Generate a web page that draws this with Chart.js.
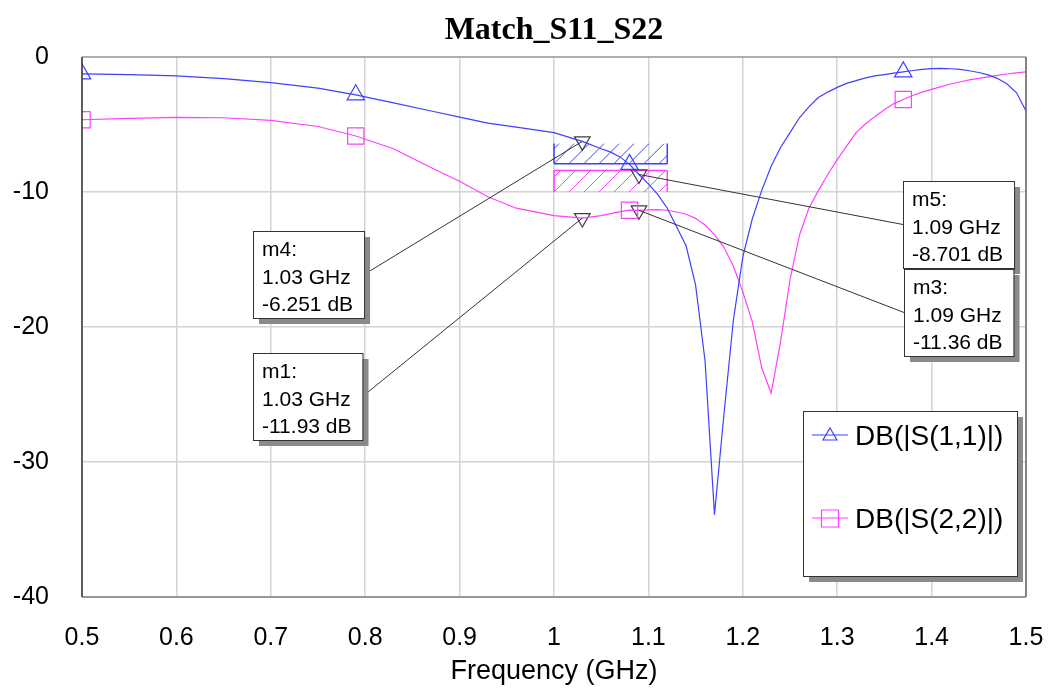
<!DOCTYPE html>
<html>
<head>
<meta charset="utf-8">
<title>Match_S11_S22</title>
<script src="https://cdn.jsdelivr.net/npm/chart.js@4.4.1/dist/chart.umd.min.js"></script>
<style>
    html, body { margin: 0; padding: 0; background: #fff; }
    #wrap { width: 1048px; height: 688px; }
</style>
</head>
<body>
<div id="wrap"><canvas id="chart" width="1048" height="688"></canvas></div>
<script>
(function () {

    // Sweep frequencies (GHz), finer through the resonances.
    var freqGHz = [0.50, 0.55, 0.60, 0.65, 0.70, 0.75, 0.79, 0.83, 0.87, 0.90, 0.93, 0.96, 1.00, 1.03,
        1.05, 1.06, 1.07, 1.08, 1.09, 1.10, 1.11, 1.12, 1.13, 1.14, 1.15, 1.16, 1.17, 1.18, 1.19, 1.20,
        1.21, 1.22, 1.23, 1.24, 1.25, 1.26, 1.27, 1.28, 1.29, 1.30, 1.31, 1.32, 1.33, 1.34, 1.35, 1.36,
        1.37, 1.38, 1.39, 1.40, 1.41, 1.42, 1.43, 1.44, 1.45, 1.46, 1.47, 1.48, 1.49, 1.50];

    // DB(|S(1,1)|)
    var s11Db = [-1.25, -1.3, -1.4, -1.6, -1.9, -2.3, -2.8, -3.4, -4.0, -4.45, -4.9, -5.2, -5.6, -6.251,
        -6.8, -7.05, -7.4, -7.95, -8.701, -9.4, -10.2, -11.2, -12.6, -14.0, -16.9, -22.5, -33.9, -26.5, -19.5, -14.8,
        -12.0, -9.9, -8.1, -6.7, -5.6, -4.5, -3.7, -3.0, -2.6, -2.25, -1.95, -1.75, -1.55, -1.4, -1.3, -1.2,
        -1.1, -1.0, -0.92, -0.86, -0.85, -0.87, -0.92, -1.02, -1.15, -1.32, -1.6, -2.0, -2.65, -4.0];

    // DB(|S(2,2)|)
    var s22Db = [-4.65, -4.55, -4.47, -4.5, -4.7, -5.15, -5.85, -6.8, -8.2, -9.2, -10.35, -11.2, -11.75, -11.93,
        -11.75, -11.6, -11.45, -11.35, -11.36, -11.33, -11.3, -11.35, -11.48, -11.65, -11.95, -12.45, -13.15, -14.1, -15.5, -17.4,
        -19.6, -23.0, -24.9, -21.1, -16.5, -13.2, -11.2, -9.9, -8.7, -7.6, -6.6, -5.6, -4.95, -4.4, -3.9, -3.45,
        -3.15, -2.85, -2.6, -2.4, -2.2, -2.0, -1.85, -1.7, -1.58, -1.47, -1.36, -1.26, -1.18, -1.1];

    // Frequencies where each trace carries its symbol.
    var symbolFreq = [0.5, 0.79, 1.08, 1.37];

    // Trace markers.
    var markerNames = ['m4', 'm1', 'm5', 'm3'];
    var markerFreq = [1.03, 1.03, 1.09, 1.09];
    var markerDb = [-6.251, -11.93, -8.701, -11.36];

    // Optimisation goals: band, then goal line and hatch limit (dB).
    var goalFreq = [1.0, 1.12];
    var s11Goal = [-7.9, -6.4];
    var s22Goal = [-8.4, -10];

    var freqTicks = [0.5, 0.6, 0.7, 0.8, 0.9, 1.0, 1.1, 1.2, 1.3, 1.4, 1.5];
    var dbTicks = [0, -10, -20, -30, -40];

    var BLUE = '#4040ff';
    var PINK = '#ff40ff';
    var INK = '#404040';
    var SANS = '"Liberation Sans", Arial, sans-serif';

    // Where each marker readout sits, in axis units (left, top).
    var markerBoxAt = [[0.681, -12.9], [0.681, -21.9], [1.37, -9.15], [1.371, -15.7]];

    function points(ys) {
        return freqGHz.map(function (f, i) { return { x: f, y: ys[i] }; });
    }

    function isSymbol(f) {
        return symbolFreq.some(function (s) { return Math.abs(s - f) < 1e-6; });
    }

    function shadowBox(ctx, left, top, w, h) {
        ctx.fillStyle = '#8a8a8a';
        ctx.fillRect(left + 6, top + 6, w, h);
        ctx.fillStyle = '#ffffff';
        ctx.fillRect(left, top, w, h);
        ctx.strokeStyle = '#333333';
        ctx.lineWidth = 1;
        ctx.strokeRect(left + 0.5, top + 0.5, w, h);
    }

    /**
     * Hatched goal box with its side walls and goal line.
     */
    function drawGoal(chart, limits, color) {
        var x = chart.scales.x, y = chart.scales.y, ctx = chart.ctx;
        var left = x.getPixelForValue(goalFreq[0]);
        var right = x.getPixelForValue(goalFreq[1]);
        var top = y.getPixelForValue(Math.max(limits[0], limits[1]));
        var bottom = y.getPixelForValue(Math.min(limits[0], limits[1]));
        var h = bottom - top, sx;

        ctx.save();
        ctx.beginPath();
        ctx.rect(left, top, right - left, h);
        ctx.clip();
        ctx.strokeStyle = color;
        ctx.lineWidth = 1;
        ctx.beginPath();
        for (sx = left - Math.ceil(h / 15) * 15; sx < right; sx += 15) {
            ctx.moveTo(sx, bottom);
            ctx.lineTo(sx + h, top);
        }
        ctx.stroke();
        ctx.restore();

        ctx.save();
        ctx.strokeStyle = color;
        ctx.lineWidth = 1.5;
        ctx.beginPath();
        ctx.moveTo(left, top);
        ctx.lineTo(left, bottom);
        ctx.moveTo(right, top);
        ctx.lineTo(right, bottom);
        ctx.moveTo(left, y.getPixelForValue(limits[0]));
        ctx.lineTo(right, y.getPixelForValue(limits[0]));
        ctx.stroke();
        ctx.restore();
    }

    var goalsPlugin = {
        id: 'goals',
        beforeDatasetsDraw: function (chart) {
            drawGoal(chart, s11Goal, BLUE);
            drawGoal(chart, s22Goal, PINK);
        }
    };

    // Plot frame: each side has its own shade.
    var framePlugin = {
        id: 'frame',
        afterDatasetsDraw: function (chart) {
            var a = chart.chartArea, ctx = chart.ctx;
            ctx.save();
            ctx.lineWidth = 1.5;
            ctx.strokeStyle = '#a0a0a0';
            ctx.beginPath(); ctx.moveTo(a.left, a.top); ctx.lineTo(a.right, a.top); ctx.stroke();
            ctx.strokeStyle = '#666666';
            ctx.beginPath(); ctx.moveTo(a.right, a.top); ctx.lineTo(a.right, a.bottom); ctx.stroke();
            ctx.strokeStyle = '#808080';
            ctx.beginPath(); ctx.moveTo(a.left, a.bottom); ctx.lineTo(a.right, a.bottom); ctx.stroke();
            ctx.strokeStyle = '#333333';
            ctx.beginPath(); ctx.moveTo(a.left, a.top); ctx.lineTo(a.left, a.bottom); ctx.stroke();
            ctx.restore();
        }
    };

    var markerBoxPlugin = {
        id: 'markerBoxes',
        afterDraw: function (chart) {
            var x = chart.scales.x, y = chart.scales.y, ctx = chart.ctx;
            ctx.save();
            ctx.font = '21px ' + SANS;
            markerNames.forEach(function (name, i) {
                var lines = [name + ':', markerFreq[i].toFixed(2) + ' GHz', markerDb[i].toPrecision(4) + ' dB'];
                var w = Math.max.apply(null, lines.map(function (t) { return ctx.measureText(t).width; })) + 20;
                var h = 87;
                var left = Math.round(x.getPixelForValue(markerBoxAt[i][0]));
                var top = Math.round(y.getPixelForValue(markerBoxAt[i][1]));
                var px = x.getPixelForValue(markerFreq[i]);
                var py = y.getPixelForValue(markerDb[i]);
                var ex = left > px ? left : left + w;

                ctx.strokeStyle = '#333333';
                ctx.lineWidth = 1;
                ctx.beginPath();
                ctx.moveTo(ex, top + h / 2);
                ctx.lineTo(px, py);
                ctx.stroke();

                shadowBox(ctx, left, top, w, h);
                ctx.fillStyle = '#000000';
                ctx.textBaseline = 'alphabetic';
                ctx.textAlign = 'left';
                lines.forEach(function (t, k) {
                    ctx.fillText(t, left + 9, top + 25 + k * 27.5);
                });
            });
            ctx.restore();
        }
    };

    var legendPlugin = {
        id: 'boxLegend',
        afterDraw: function (chart) {
            var a = chart.chartArea, ctx = chart.ctx;
            var w = 214, h = 165;
            var left = a.right - 9 - w, top = a.bottom - 21 - h;
            var rows = [
                { label: 'DB(|S(1,1)|)', color: BLUE, shape: 'triangle', dy: 24 },
                { label: 'DB(|S(2,2)|)', color: PINK, shape: 'square', dy: 107 }
            ];
            ctx.save();
            shadowBox(ctx, left, top, w, h);
            rows.forEach(function (r) {
                var cy = top + r.dy, cx = left + 27;
                ctx.strokeStyle = r.color;
                ctx.lineWidth = 1.2;
                ctx.beginPath();
                ctx.moveTo(left + 9, cy);
                ctx.lineTo(left + 45, cy);
                ctx.stroke();
                ctx.beginPath();
                if (r.shape === 'triangle') {
                    ctx.moveTo(cx, cy - 7);
                    ctx.lineTo(cx + 7, cy + 5);
                    ctx.lineTo(cx - 7, cy + 5);
                    ctx.closePath();
                } else {
                    ctx.rect(cx - 8.5, cy - 8, 17, 17);
                }
                ctx.stroke();
                ctx.fillStyle = '#000000';
                ctx.font = '28px ' + SANS;
                ctx.textBaseline = 'middle';
                ctx.fillText(r.label, left + 52, cy + 2);
            });
            ctx.restore();
        }
    };

    var titlePlugin = {
        id: 'plotTitle',
        afterDraw: function (chart) {
            var a = chart.chartArea, ctx = chart.ctx;
            ctx.save();
            ctx.font = 'bold 32px "Liberation Serif", "Times New Roman", serif';
            ctx.fillStyle = '#000000';
            ctx.textAlign = 'center';
            ctx.textBaseline = 'middle';
            ctx.fillText('Match_S11_S22', (a.left + a.right) / 2, 31);
            ctx.restore();
        }
    };

    function traceDataset(label, ys, color, style, radius) {
        return {
            label: label,
            data: points(ys),
            borderColor: color,
            borderWidth: 1.2,
            tension: 0,
            clip: 0,
            pointStyle: style,
            pointBorderColor: color,
            pointBackgroundColor: 'rgba(0,0,0,0)',
            pointBorderWidth: 1.2,
            pointRadius: function (c) { return isSymbol(c.raw.x) ? radius : 0; }
        };
    }

    new Chart(document.getElementById('chart'), {
        type: 'line',
        data: {
            datasets: [
                traceDataset('DB(|S(1,1)|)', s11Db, BLUE, 'triangle', 10),
                traceDataset('DB(|S(2,2)|)', s22Db, PINK, 'rect', 11.5),
                {
                    label: 'markers',
                    type: 'scatter',
                    data: markerFreq.map(function (f, i) { return { x: f, y: markerDb[i] }; }),
                    showLine: false,
                    clip: 0,
                    pointStyle: 'triangle',
                    rotation: 180,
                    pointRadius: 9,
                    pointBorderWidth: 1.2,
                    pointBorderColor: INK,
                    pointBackgroundColor: 'rgba(0,0,0,0)'
                }
            ]
        },
        options: {
            responsive: false,
            devicePixelRatio: 1,
            animation: false,
            events: [],
            layout: { padding: { top: 57, right: 0, left: 0, bottom: 0 } },
            plugins: {
                legend: { display: false },
                tooltip: { enabled: false },
                title: { display: false }
            },
            scales: {
                x: {
                    type: 'linear',
                    min: 0.5,
                    max: 1.5,
                    afterBuildTicks: function (scale) {
                        scale.ticks = freqTicks.map(function (v) { return { value: v }; });
                    },
                    afterFit: function (scale) {
                        scale.height = 91;
                        scale.paddingLeft = 0;
                        scale.paddingRight = 22;
                    },
                    grid: { color: '#d4d4d4', lineWidth: 1.5, drawTicks: false },
                    border: { display: false },
                    ticks: {
                        padding: 26,
                        color: '#000000',
                        font: { family: SANS, size: 25 },
                        maxRotation: 0,
                        callback: function (v) { return String(Math.round(v * 10) / 10); }
                    },
                    title: {
                        display: true,
                        text: 'Frequency (GHz)',
                        color: '#000000',
                        padding: { top: 0, bottom: 0 },
                        font: { family: SANS, size: 27 }
                    }
                },
                y: {
                    type: 'linear',
                    min: -40,
                    max: 0,
                    afterBuildTicks: function (scale) {
                        scale.ticks = dbTicks.map(function (v) { return { value: v }; });
                    },
                    afterFit: function (scale) { scale.width = 82; },
                    grid: { color: '#d4d4d4', lineWidth: 1.5, drawTicks: false },
                    border: { display: false },
                    ticks: {
                        padding: 33,
                        color: '#000000',
                        font: { family: SANS, size: 25 }
                    }
                }
            }
        },
        plugins: [goalsPlugin, framePlugin, markerBoxPlugin, legendPlugin, titlePlugin]
    });

})();
</script>
</body>
</html>
